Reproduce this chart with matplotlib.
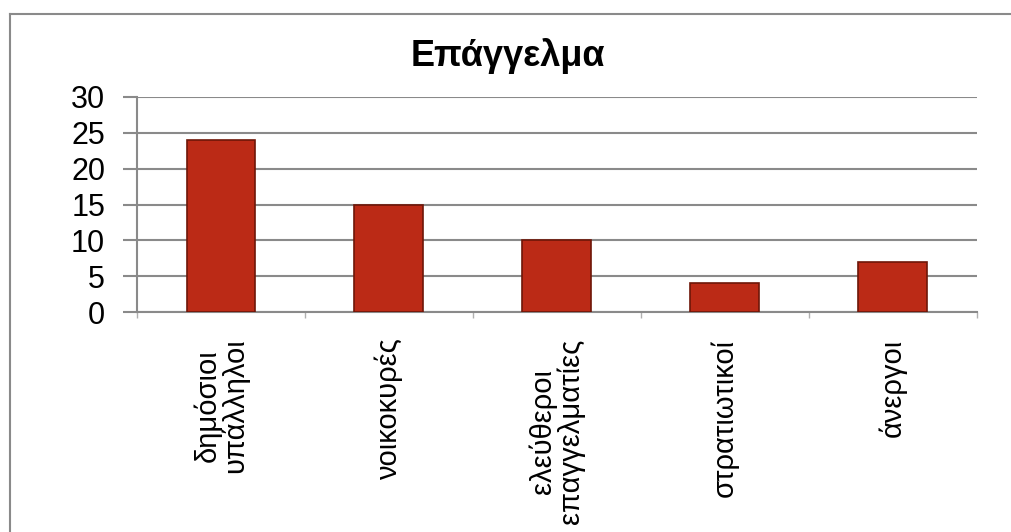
import matplotlib.pyplot as plt
from matplotlib.lines import Line2D

plt.rcParams['font.family'] = ['Liberation Sans', 'DejaVu Sans']

TITLE = "Επάγγελμα"
categories = ["δημόσιοι\nυπάλληλοι", "νοικοκυρές", "ελεύθεροι\nεπαγγελματίες",
              "στρατιωτικοί", "άνεργοι"]
counts = [24, 15, 10, 4, 7]
y_ticks = [0, 5, 10, 15, 20, 25, 30]

BAR_COLOR = "#bb2a16"
EDGE_COLOR = "#6e1608"
GRID_COLOR = "#8a8a8a"

fig = plt.figure(figsize=(10.12, 5.32), dpi=100)
ax = fig.add_axes([0.1354, 0.4135, 0.8296, 0.4042])

x = list(range(len(categories)))
ax.bar(x, counts, width=0.41, color=BAR_COLOR, edgecolor=EDGE_COLOR,
       linewidth=1.2, zorder=3)

ax.set_xlim(-0.5, len(categories) - 0.5)
ax.set_ylim(0, 30)
ax.set_yticks(y_ticks)
ax.set_yticklabels([str(v) for v in y_ticks], fontsize=22)
ax.yaxis.grid(True, color=GRID_COLOR, linewidth=1.5, zorder=0)

# category labels sit under the bars, ticks mark the boundaries
ax.set_xticks(x)
ax.set_xticklabels(categories, rotation=90, fontsize=21, ha="center",
                   va="top", linespacing=0.95, multialignment="center")
ax.tick_params(axis="x", length=0, pad=19)
ax.set_xticks([i - 0.5 for i in range(len(categories) + 1)], minor=True)
ax.tick_params(axis="x", which="minor", length=4, color="#b0b0b0", width=1)
ax.tick_params(axis="y", length=10, color=GRID_COLOR, width=1.5, pad=13)

for side in ["top", "right"]:
    ax.spines[side].set_visible(False)
ax.spines["left"].set_color(GRID_COLOR)
ax.spines["left"].set_linewidth(1.5)
ax.spines["bottom"].set_color(GRID_COLOR)
ax.spines["bottom"].set_linewidth(1.5)

fig.text(0.502, 0.895, TITLE, fontsize=26, fontweight="bold",
         ha="center", va="center")

# chart area frame (left and top edges only)
fig.add_artist(Line2D([0.0099, 0.0099], [0.0, 0.9737], color="#8a8a8a",
                      linewidth=1.5, transform=fig.transFigure))
fig.add_artist(Line2D([0.0099, 1.0], [0.9737, 0.9737], color="#8a8a8a",
                      linewidth=1.5, transform=fig.transFigure))

fig.savefig("out.png", dpi=100)
